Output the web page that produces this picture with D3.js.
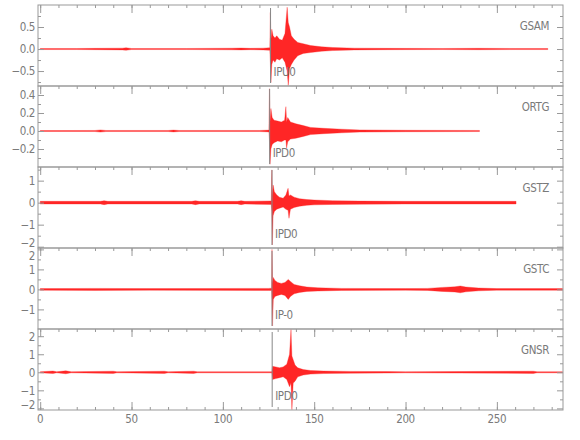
<!DOCTYPE html>
<html>
<head>
<meta charset="utf-8">
<script src="https://cdn.jsdelivr.net/npm/d3@7"></script>
<style>
  body { margin: 0; background: #fff; }
  #chart { width: 580px; height: 440px; }
  text { font-family: "Liberation Sans Narrow", "DejaVu Sans Condensed", sans-serif; font-stretch: condensed; fill: #7a7a7a; font-size: 11.5px; letter-spacing: -0.4px; }
</style>
</head>
<body>
<div id="chart"></div>
<script>
// station names, pick labels and pick times (s)
const stations = ["GSAM", "ORTG", "GSTZ", "GSTC", "GNSR"];
const pickLabels = ["IPU0", "IPD0", "IPD0", "IP-0", "IPD0"];
const pickTimes = [126.1, 125.6, 126.9, 126.9, 127.0];

// amplitude range shown in each panel
const yRanges = [[-0.84, 1.0], [-0.4, 0.5], [-2.06, 1.62], [-1.98, 2.07], [-2.09, 2.4]];
const yTickLabels = [[-0.5, 0, 0.5], [-0.2, 0, 0.2, 0.4], [-2, -1, 0, 1], [-1, 0, 1, 2], [-2, -1, 0, 1, 2]];
const yMinorTicks = [[-0.75, -0.25, 0.25, 0.75], [-0.3, -0.1, 0.1, 0.3], [-1.5, -0.5, 0.5, 1.5], [-1.5, -0.5, 0.5, 1.5], [-1.5, -0.5, 0.5, 1.5]];
const yFormats = [".1f", ".1f", "d", "d", "d"];

const xTickLabels = [0, 50, 100, 150, 200, 250];

// trace envelopes: [time, upper, lower]
const gsam = [
  [0, 0.012, -0.012], [20, 0.012, -0.012], [30, 0.015, -0.015], [45, 0.02, -0.02], [47, 0.028, -0.028],
  [50, 0.012, -0.012], [80, 0.012, -0.012], [105, 0.018, -0.018], [110, 0.022, -0.02], [115, 0.015, -0.015],
  [122, 0.02, -0.02], [125.7, 0.03, -0.03], [126.0, 0.83, -0.3], [126.3, 0.2, -0.76], [126.8, 0.45, -0.35],
  [127.5, 0.3, -0.25], [128.5, 0.25, -0.3], [129.5, 0.3, -0.22], [131, 0.22, -0.25], [132.5, 0.2, -0.2],
  [134, 0.35, -0.3], [135.2, 0.95, -0.5], [135.8, 0.6, -0.83], [136.5, 0.5, -0.45], [137.5, 0.3, -0.35],
  [139, 0.22, -0.25], [141, 0.15, -0.15], [144, 0.12, -0.1], [148, 0.08, -0.08], [154, 0.05, -0.05],
  [160, 0.035, -0.035], [172, 0.02, -0.02], [190, 0.015, -0.015], [220, 0.012, -0.012], [240, 0.016, -0.016],
  [260, 0.012, -0.012], [277.9, 0.012, -0.012]
];
const ortg = [
  [0, 0.005, -0.005], [30, 0.006, -0.006], [33, 0.012, -0.012], [36, 0.006, -0.006], [70, 0.006, -0.006],
  [73, 0.01, -0.01], [76, 0.006, -0.006], [120, 0.006, -0.006], [125.2, 0.01, -0.01], [125.5, 0.47, -0.1],
  [125.8, 0.1, -0.37], [126.3, 0.25, -0.2], [127, 0.15, -0.15], [128, 0.12, -0.13], [130, 0.11, -0.11],
  [132, 0.1, -0.12], [133.8, 0.12, -0.1], [134.5, 0.27, -0.1], [134.9, 0.1, -0.19], [135.5, 0.15, -0.12],
  [137, 0.1, -0.09], [140, 0.08, -0.08], [144, 0.06, -0.06], [148, 0.04, -0.04], [155, 0.03, -0.03],
  [165, 0.02, -0.02], [175, 0.012, -0.012], [200, 0.008, -0.008], [240.5, 0.006, -0.006]
];
const gstz = [
  [0, 0.06, -0.06], [33, 0.06, -0.06], [35, 0.09, -0.09], [37, 0.06, -0.06], [83, 0.06, -0.06],
  [85, 0.09, -0.09], [87, 0.06, -0.06], [108, 0.06, -0.06], [110, 0.09, -0.09], [112, 0.06, -0.06],
  [126.5, 0.08, -0.08], [126.8, 1.49, -0.4], [127.1, 0.3, -1.92], [127.5, 0.8, -0.6], [128.2, 0.5, -0.4],
  [129.5, 0.35, -0.3], [131, 0.25, -0.25], [133, 0.2, -0.2], [134.5, 0.35, -0.3], [135.7, 0.65, -0.35],
  [136.2, 0.3, -0.71], [137, 0.35, -0.3], [139, 0.25, -0.22], [142, 0.18, -0.16], [146, 0.14, -0.12],
  [150, 0.12, -0.1], [160, 0.09, -0.08], [175, 0.07, -0.07], [200, 0.06, -0.06], [260.5, 0.06, -0.06]
];
const gstc = [
  [0, 0.04, -0.04], [30, 0.05, -0.05], [60, 0.04, -0.04], [125, 0.05, -0.05], [126.7, 0.06, -0.06],
  [126.9, 2.0, -0.5], [127.2, 0.3, -1.83], [127.6, 0.6, -0.5], [128.5, 0.45, -0.35], [130, 0.35, -0.3],
  [132, 0.3, -0.25], [134, 0.35, -0.3], [135.8, 0.5, -0.5], [137, 0.4, -0.35], [139, 0.25, -0.22],
  [142, 0.18, -0.15], [146, 0.12, -0.1], [152, 0.08, -0.08], [165, 0.05, -0.05], [200, 0.04, -0.04],
  [212, 0.05, -0.05], [220, 0.1, -0.1], [227, 0.13, -0.13], [230, 0.17, -0.17], [233, 0.12, -0.12],
  [240, 0.07, -0.07], [250, 0.04, -0.04], [286, 0.04, -0.04]
];
const gnsr = [
  [0, 0.03, -0.03], [7, 0.07, -0.07], [9, 0.03, -0.03], [14, 0.08, -0.08], [17, 0.03, -0.03],
  [40, 0.06, -0.06], [42, 0.03, -0.03], [68, 0.06, -0.06], [70, 0.03, -0.03], [84, 0.06, -0.06],
  [86, 0.03, -0.03], [126.8, 0.03, -0.03], [127.2, 0.33, -0.4], [129, 0.3, -0.35], [131, 0.25, -0.3],
  [133, 0.3, -0.25], [135, 0.45, -0.4], [136.5, 1.0, -0.8], [137.3, 2.37, -0.6], [137.8, 0.9, -2.08],
  [138.5, 0.7, -0.6], [139.5, 0.4, -0.5], [141, 0.25, -0.25], [144, 0.15, -0.15], [148, 0.1, -0.1],
  [155, 0.07, -0.07], [170, 0.05, -0.05], [190, 0.04, -0.04], [200, 0.03, -0.03], [270, 0.06, -0.06],
  [272, 0.03, -0.03], [286, 0.03, -0.03]
];
const traces = [gsam, ortg, gstz, gstc, gnsr];

function renderSeismograms(selector) {
    const frameColor = "#999";
    const left = 38, right = 563, top = 5, panelH = 81;

    const svg = d3.select(selector).append("svg")
        .attr("width", 580)
        .attr("height", 440);

    const x = d3.scaleLinear()
        .domain([-1.2, 286.2])
        .range([left, right]);

    const xMinor = d3.range(0, 290, 10);

    const area = (y) => d3.area()
        .x(d => x(d[0]))
        .y0(d => y(d[2]))
        .y1(d => y(d[1]));

    stations.forEach((name, i) => {
        const y0 = top + i * panelH;
        const y = d3.scaleLinear()
            .domain(yRanges[i])
            .range([y0 + panelH, y0]);
        const g = svg.append("g").attr("class", "panel");

        // trace
        g.append("path")
            .datum(traces[i])
            .attr("d", area(y))
            .attr("fill", "#ff0000")
            .attr("fill-opacity", 0.85)
            .attr("stroke", "#ff2020")
            .attr("stroke-opacity", 0.8)
            .attr("stroke-width", 0.4)
            .attr("stroke-linejoin", "round");

        // pick marker
        g.append("line")
            .attr("x1", x(pickTimes[i])).attr("x2", x(pickTimes[i]))
            .attr("y1", y0 + 3).attr("y2", y0 + panelH - 3)
            .attr("stroke", "#888")
            .attr("stroke-width", 1);

        g.append("text")
            .attr("x", x(pickTimes[i]) + 3)
            .attr("y", y0 + 71)
            .text(pickLabels[i]);

        g.append("text")
            .attr("x", 549)
            .attr("y", y0 + 24.5)
            .attr("text-anchor", "end")
            .text(name);

        // frame
        g.append("rect")
            .attr("x", left).attr("y", y0)
            .attr("width", right - left).attr("height", panelH)
            .attr("fill", "none")
            .attr("stroke", frameColor);

        // y axes, left and right, ticks pointing inward
        const fmt = d3.format(yFormats[i]);
        g.append("g")
            .attr("transform", `translate(${left},0)`)
            .call(d3.axisRight(y).tickValues(yTickLabels[i]).tickSize(6).tickFormat(""))
            .call(a => a.select(".domain").remove());
        g.append("g")
            .attr("transform", `translate(${left},0)`)
            .call(d3.axisRight(y).tickValues(yMinorTicks[i]).tickSize(3).tickFormat(""))
            .call(a => a.select(".domain").remove());
        g.append("g")
            .attr("transform", `translate(${right},0)`)
            .call(d3.axisLeft(y).tickValues(yTickLabels[i]).tickSize(6).tickFormat(""))
            .call(a => a.select(".domain").remove());
        g.append("g")
            .attr("transform", `translate(${right},0)`)
            .call(d3.axisLeft(y).tickValues(yMinorTicks[i]).tickSize(3).tickFormat(""))
            .call(a => a.select(".domain").remove());

        // labels that sit on a panel edge are nudged inside it
        g.selectAll(".ylab")
            .data(yTickLabels[i])
            .enter()
            .append("text")
            .attr("class", "ylab")
            .attr("x", 35)
            .attr("y", d => {
                let py = y(d) + 4.3;
                if (y(d) > y0 + panelH - 2) py -= 4;
                if (y(d) < y0 + 3) py += 6.5;
                return py;
            })
            .attr("text-anchor", "end")
            .text(d => fmt(d));

        // x ticks along the panel top
        g.append("g")
            .attr("transform", `translate(0,${y0})`)
            .call(d3.axisBottom(x).tickValues(xMinor).tickSize(3).tickFormat(""))
            .call(a => a.select(".domain").remove());
        g.append("g")
            .attr("transform", `translate(0,${y0})`)
            .call(d3.axisBottom(x).tickValues(xTickLabels).tickSize(8).tickFormat(""))
            .call(a => a.select(".domain").remove());
    });

    // bottom x axis
    const yBottom = top + stations.length * panelH;
    svg.append("g")
        .attr("transform", `translate(0,${yBottom})`)
        .call(d3.axisTop(x).tickValues(xMinor).tickSize(3).tickFormat(""))
        .call(a => a.select(".domain").remove());
    svg.append("g")
        .attr("transform", `translate(0,${yBottom})`)
        .call(d3.axisTop(x).tickValues(xTickLabels).tickSize(8).tickFormat(""))
        .call(a => a.select(".domain").remove());

    svg.selectAll(".xlab")
        .data(xTickLabels)
        .enter()
        .append("text")
        .attr("class", "xlab")
        .attr("x", d => x(d))
        .attr("y", yBottom + 13)
        .attr("text-anchor", "middle")
        .text(d => d);

    svg.selectAll(".tick line").attr("stroke", frameColor);
}

renderSeismograms("#chart");
</script>
</body>
</html>
